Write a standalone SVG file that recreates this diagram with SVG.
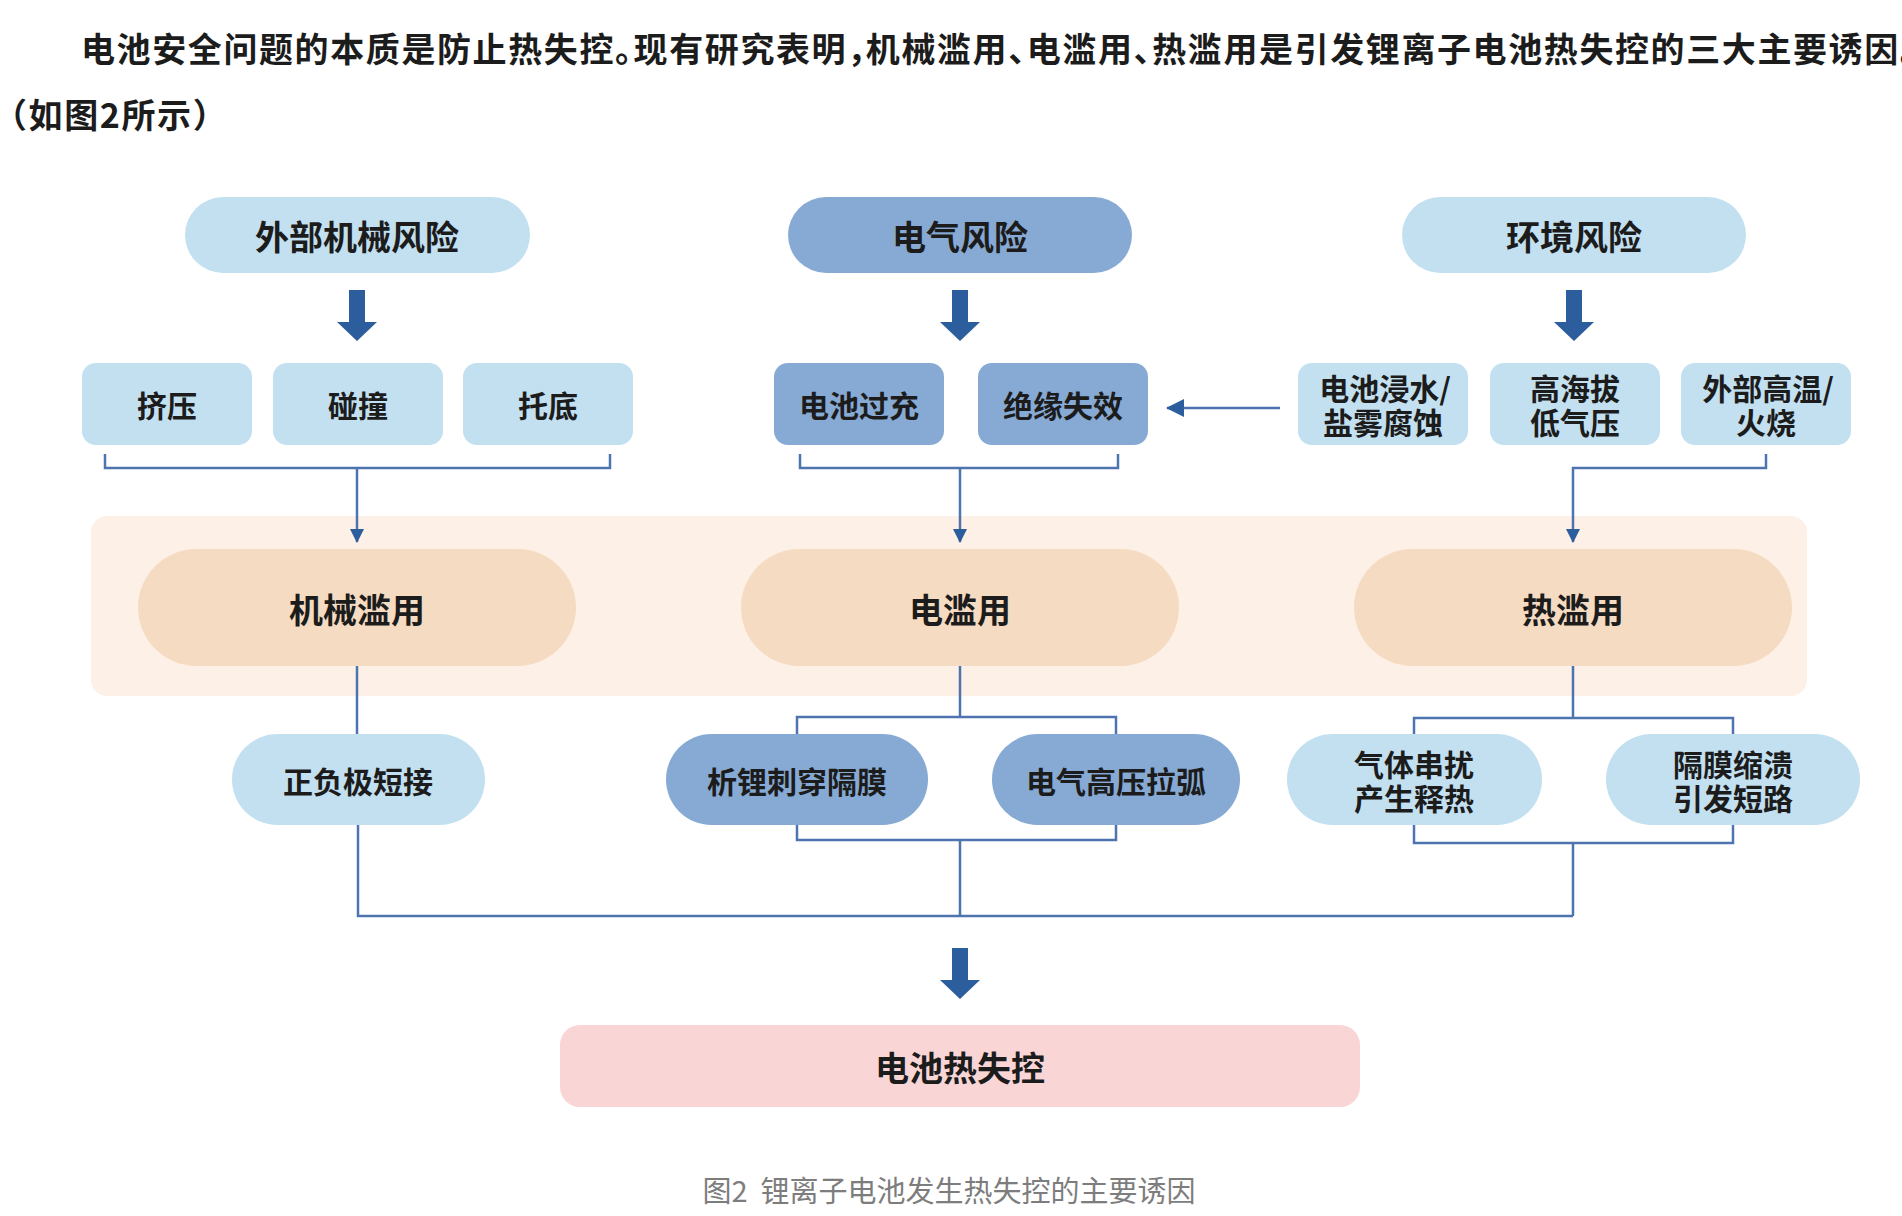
<svg xmlns="http://www.w3.org/2000/svg" width="1902" height="1216" viewBox="0 0 1902 1216">
  <defs>
    <style>
      text { font-family: "Noto Sans CJK SC", "Noto Sans", sans-serif; fill: #1c1c1c; text-anchor: middle; dominant-baseline: central; }
      .para { font-size: 34px; font-weight: 700; letter-spacing: 1.6px; text-anchor: start; font-feature-settings: "halt"; }
      .big { font-size: 34px; font-weight: 600; }
      .small { font-size: 30px; font-weight: 600; }
      .title { font-size: 34px; font-weight: 700; }
      .caption { font-size: 29px; font-weight: 400; fill: #7d7d7d; }
      .lb { fill: #C3E0F1; }
      .mb { fill: #87AAD4; }
      .pe { fill: #F5DBC1; }
      .conn { fill: none; stroke: #4D74AE; stroke-width: 2.5; }
      .thick { fill: #2C5D9C; }
    </style>
    <marker id="ah" viewBox="0 0 14 14" refX="13" refY="7" markerWidth="14" markerHeight="14" markerUnits="userSpaceOnUse" orient="auto">
      <path d="M0,0 L14,7 L0,14 Z" fill="#2C5D9C"/>
    </marker>
    <marker id="ahl" viewBox="0 0 18 18" refX="17" refY="9" markerWidth="18" markerHeight="18" markerUnits="userSpaceOnUse" orient="auto">
      <path d="M0,0 L18,9 L0,18 Z" fill="#2C5D9C"/>
    </marker>
  </defs>

  <rect width="1902" height="1216" fill="#ffffff"/>

  <g id="paragraph">
    <text class="para" x="81" y="47">电池安全问题的本质是防止热失控。现有研究表明，机械滥用、电滥用、热滥用是引发锂离子电池热失控的三大主要诱因。</text>
    <text class="para" x="10" y="113">（如图2所示）</text>
  </g>

  <g id="band">
    <rect x="91" y="516" width="1716" height="180" rx="16" fill="#FDF0E6"/>
  </g>

  <g id="connectors">
    <path class="conn" d="M105,454 V468 H610 V454"/>
    <path class="conn" d="M357,468 V542" marker-end="url(#ah)"/>
    <path class="conn" d="M800,454 V468 H1118 V454"/>
    <path class="conn" d="M960,468 V542" marker-end="url(#ah)"/>
    <path class="conn" d="M1766,454 V468 H1573 V542" marker-end="url(#ah)"/>
    <path class="conn" d="M1280,408 H1167" marker-end="url(#ahl)"/>
    <path class="conn" d="M357,666 V734"/>
    <path class="conn" d="M960,666 V717 M797,734 V717 H1116 V734"/>
    <path class="conn" d="M797,825 V840 H1116 V825 M960,840 V916"/>
    <path class="conn" d="M1573,666 V718 M1414,734 V718 H1733 V734"/>
    <path class="conn" d="M1414,825 V843 H1733 V825 M1573,843 V916"/>
    <path class="conn" d="M358,825 V916 H1573"/>
    <path class="thick" d="M349,290 H365 V322 H377 L357,341 L337,322 H349 Z"/>
    <path class="thick" d="M952,290 H968 V322 H980 L960,341 L940,322 H952 Z"/>
    <path class="thick" d="M1566,290 H1582 V322 H1594 L1574,341 L1554,322 H1566 Z"/>
    <path class="thick" d="M952,948 H968 V980 H980 L960,999 L940,980 H952 Z"/>
  </g>

  <g id="n-mech-risk"><rect class="lb" x="185" y="197" width="345" height="76" rx="38"/><text class="big" x="357" y="235">外部机械风险</text></g>
  <g id="n-elec-risk"><rect class="mb" x="788" y="197" width="344" height="76" rx="38"/><text class="big" x="960" y="235">电气风险</text></g>
  <g id="n-env-risk"><rect class="lb" x="1402" y="197" width="344" height="76" rx="38"/><text class="big" x="1574" y="235">环境风险</text></g>

  <g id="n-squeeze"><rect class="lb" x="82" y="363" width="170" height="82" rx="14"/><text class="small" x="167" y="404">挤压</text></g>
  <g id="n-collision"><rect class="lb" x="273" y="363" width="170" height="82" rx="14"/><text class="small" x="358" y="404">碰撞</text></g>
  <g id="n-bottom"><rect class="lb" x="463" y="363" width="170" height="82" rx="14"/><text class="small" x="548" y="404">托底</text></g>

  <g id="n-overcharge"><rect class="mb" x="774" y="363" width="170" height="82" rx="14"/><text class="small" x="859" y="404">电池过充</text></g>
  <g id="n-insulation"><rect class="mb" x="978" y="363" width="170" height="82" rx="14"/><text class="small" x="1063" y="404">绝缘失效</text></g>

  <g id="n-water"><rect class="lb" x="1298" y="363" width="170" height="82" rx="14"/><text class="small"><tspan x="1385" y="387">电池浸水/</tspan><tspan x="1383" y="421">盐雾腐蚀</tspan></text></g>
  <g id="n-altitude"><rect class="lb" x="1490" y="363" width="170" height="82" rx="14"/><text class="small"><tspan x="1575" y="387">高海拔</tspan><tspan x="1575" y="421">低气压</tspan></text></g>
  <g id="n-heat"><rect class="lb" x="1681" y="363" width="170" height="82" rx="14"/><text class="small"><tspan x="1768" y="387">外部高温/</tspan><tspan x="1766" y="421">火烧</tspan></text></g>

  <g id="n-mech-abuse"><rect class="pe" x="138" y="549" width="438" height="117" rx="58.5"/><text class="big" x="357" y="608">机械滥用</text></g>
  <g id="n-elec-abuse"><rect class="pe" x="741" y="549" width="438" height="117" rx="58.5"/><text class="big" x="960" y="608">电滥用</text></g>
  <g id="n-therm-abuse"><rect class="pe" x="1354" y="549" width="438" height="117" rx="58.5"/><text class="big" x="1573" y="608">热滥用</text></g>

  <g id="n-short"><rect class="lb" x="232" y="734" width="253" height="91" rx="45.5"/><text class="small" x="358" y="780">正负极短接</text></g>
  <g id="n-plating"><rect class="mb" x="666" y="734" width="262" height="91" rx="45.5"/><text class="small" x="797" y="780">析锂刺穿隔膜</text></g>
  <g id="n-arc"><rect class="mb" x="992" y="734" width="248" height="91" rx="45.5"/><text class="small" x="1116" y="780">电气高压拉弧</text></g>
  <g id="n-gas"><rect class="lb" x="1287" y="734" width="255" height="91" rx="45.5"/><text class="small"><tspan x="1414" y="763">气体串扰</tspan><tspan x="1414" y="797">产生释热</tspan></text></g>
  <g id="n-separator"><rect class="lb" x="1606" y="734" width="254" height="91" rx="45.5"/><text class="small"><tspan x="1733" y="763">隔膜缩溃</tspan><tspan x="1733" y="797">引发短路</tspan></text></g>

  <g id="n-runaway"><rect x="560" y="1025" width="800" height="82" rx="20" fill="#F9D5D6"/><text class="title" x="960" y="1066">电池热失控</text></g>

  <g id="caption">
    <text class="caption" x="949" y="1189" xml:space="preserve">图2  锂离子电池发生热失控的主要诱因</text>
  </g>
</svg>
